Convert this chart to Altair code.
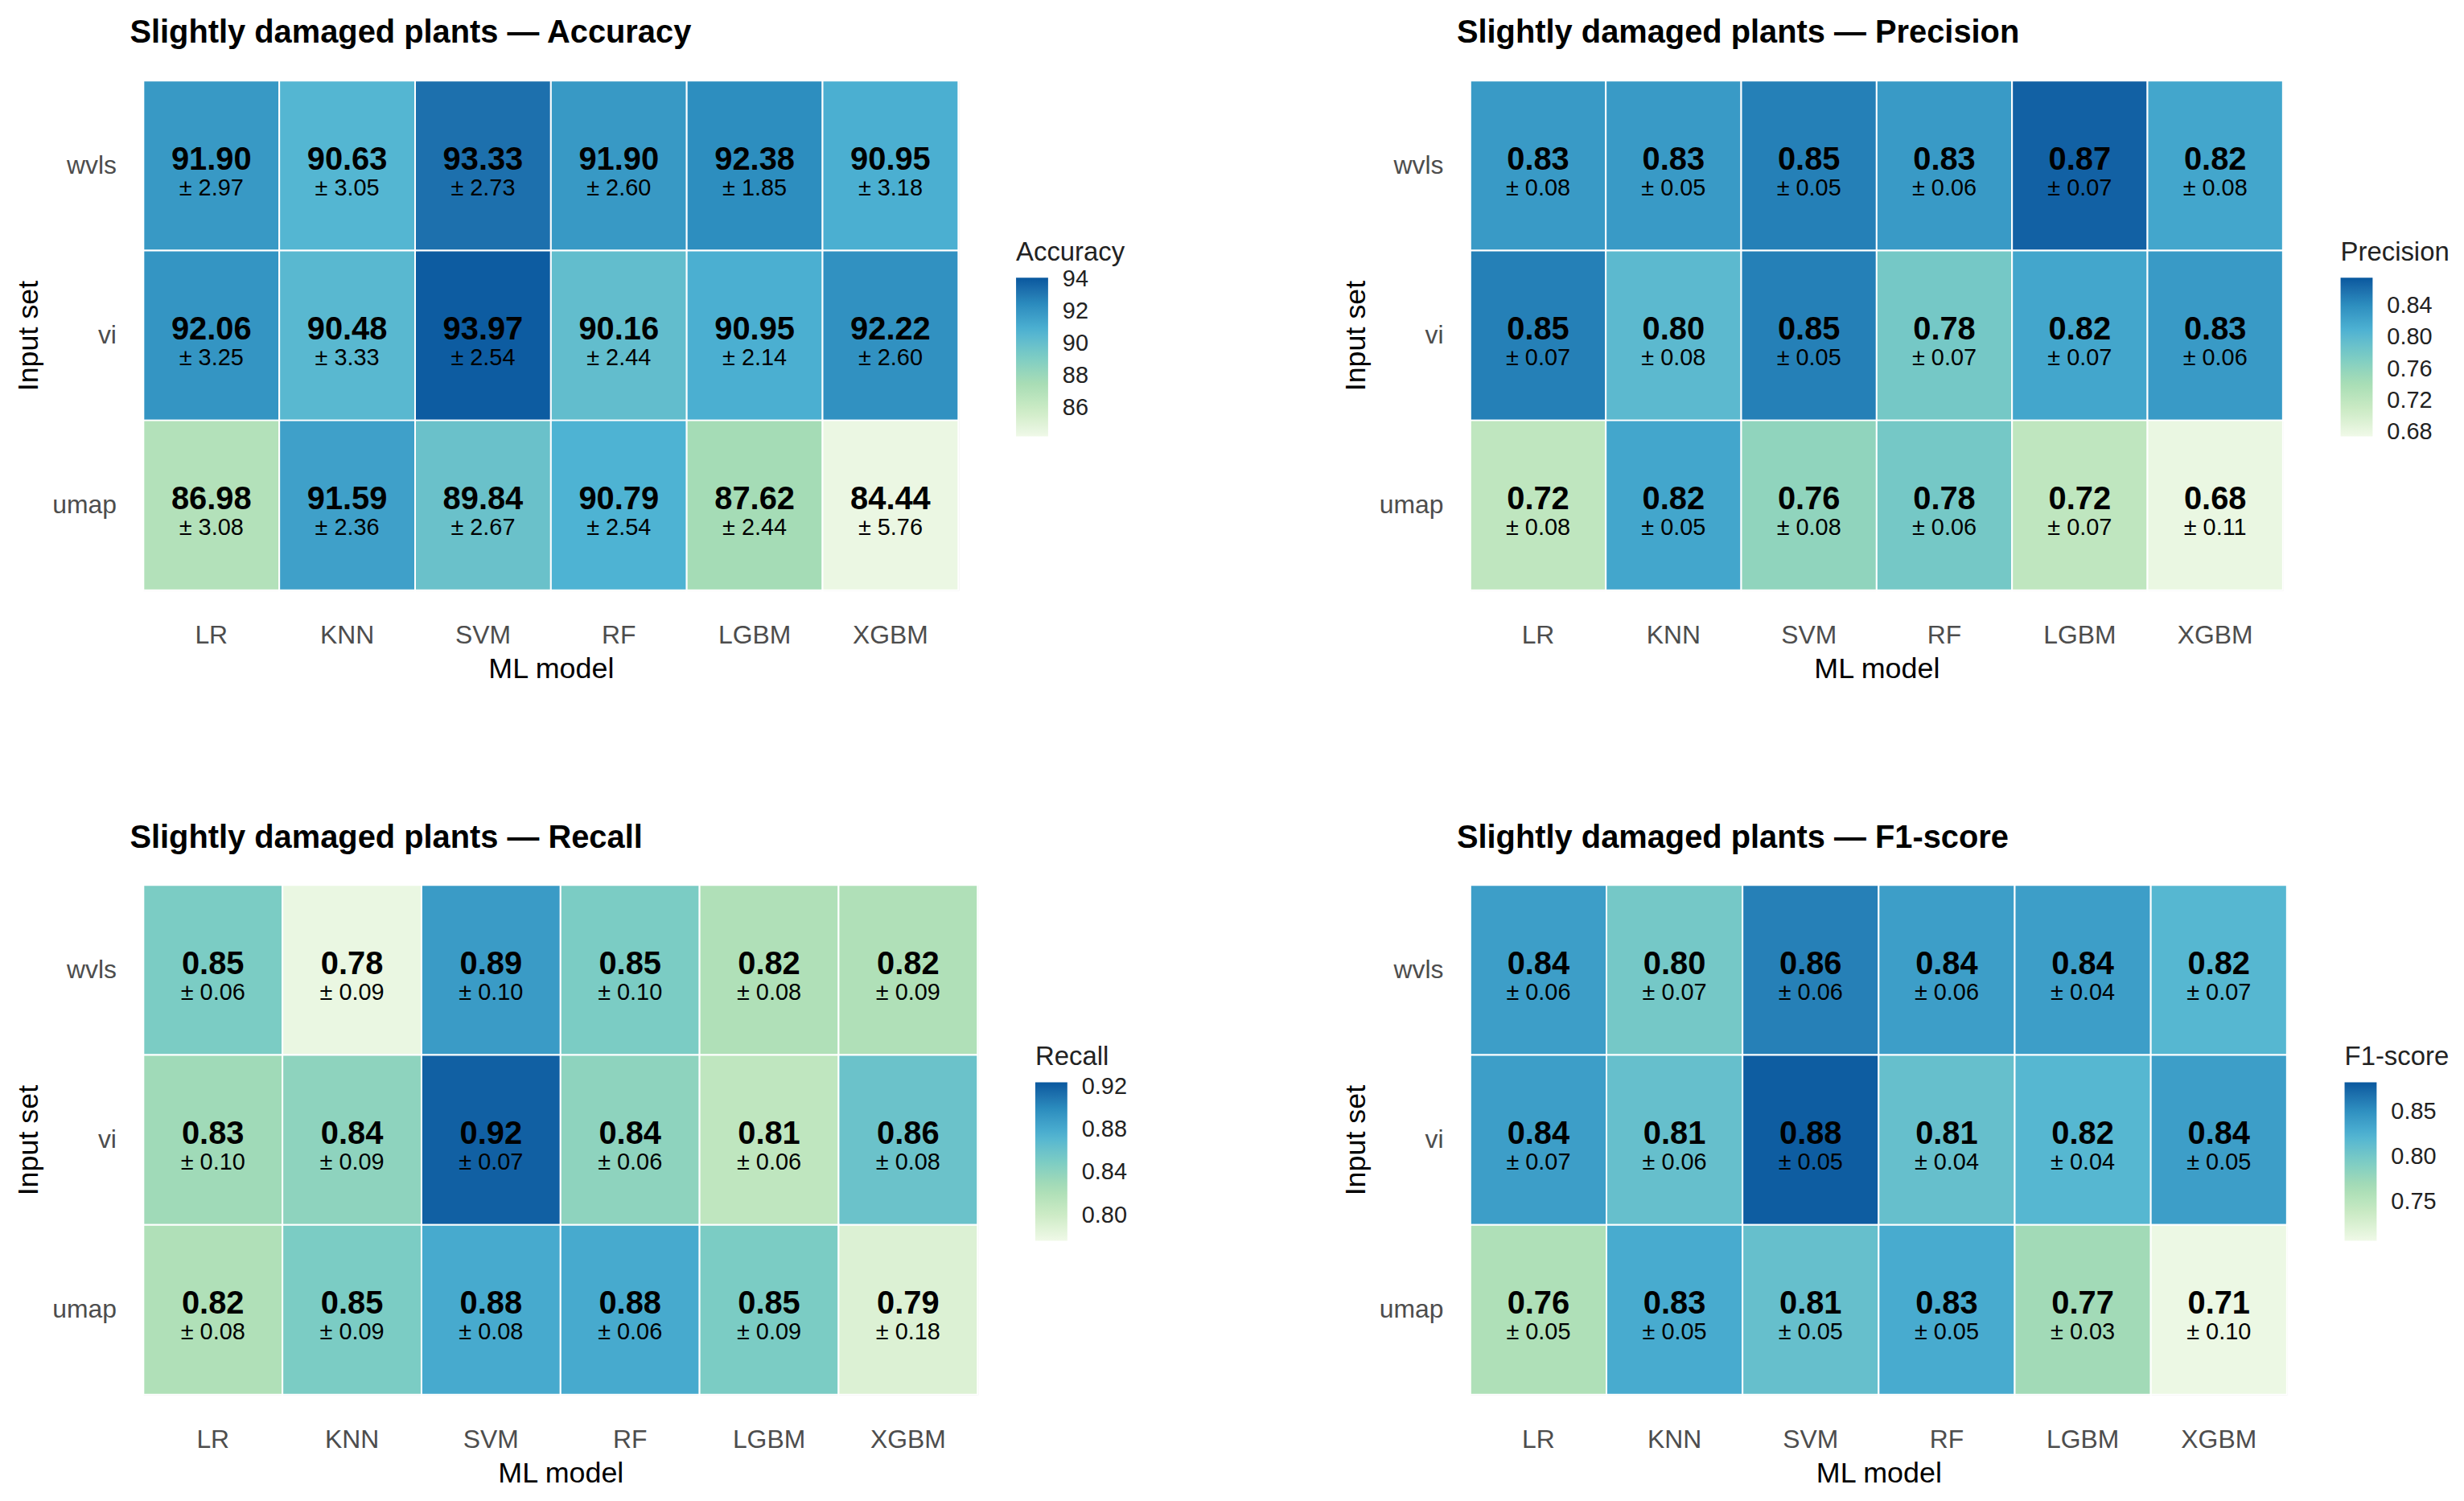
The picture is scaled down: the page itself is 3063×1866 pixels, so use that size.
import altair as alt
import pandas as pd

FONT = "Liberation Sans"

models = ["LR", "KNN", "SVM", "RF", "LGBM", "XGBM"]
input_sets = ["wvls", "vi", "umap"]

# Accuracy (mean, sd) per input set
acc_wvls = [91.90, 90.63, 93.33, 91.90, 92.38, 90.95]
acc_vi = [92.06, 90.48, 93.97, 90.16, 90.95, 92.22]
acc_umap = [86.98, 91.59, 89.84, 90.79, 87.62, 84.44]
acc_sd_wvls = [2.97, 3.05, 2.73, 2.60, 1.85, 3.18]
acc_sd_vi = [3.25, 3.33, 2.54, 2.44, 2.14, 2.60]
acc_sd_umap = [3.08, 2.36, 2.67, 2.54, 2.44, 5.76]

# Precision
pre_wvls = [0.83, 0.83, 0.85, 0.83, 0.87, 0.82]
pre_vi = [0.85, 0.80, 0.85, 0.78, 0.82, 0.83]
pre_umap = [0.72, 0.82, 0.76, 0.78, 0.72, 0.68]
pre_sd_wvls = [0.08, 0.05, 0.05, 0.06, 0.07, 0.08]
pre_sd_vi = [0.07, 0.08, 0.05, 0.07, 0.07, 0.06]
pre_sd_umap = [0.08, 0.05, 0.08, 0.06, 0.07, 0.11]

# Recall
rec_wvls = [0.85, 0.78, 0.89, 0.85, 0.82, 0.82]
rec_vi = [0.83, 0.84, 0.92, 0.84, 0.81, 0.86]
rec_umap = [0.82, 0.85, 0.88, 0.88, 0.85, 0.79]
rec_sd_wvls = [0.06, 0.09, 0.10, 0.10, 0.08, 0.09]
rec_sd_vi = [0.10, 0.09, 0.07, 0.06, 0.06, 0.08]
rec_sd_umap = [0.08, 0.09, 0.08, 0.06, 0.09, 0.18]

# F1-score
f1_wvls = [0.84, 0.80, 0.86, 0.84, 0.84, 0.82]
f1_vi = [0.84, 0.81, 0.88, 0.81, 0.82, 0.84]
f1_umap = [0.76, 0.83, 0.81, 0.83, 0.77, 0.71]
f1_sd_wvls = [0.06, 0.07, 0.06, 0.06, 0.04, 0.07]
f1_sd_vi = [0.07, 0.06, 0.05, 0.04, 0.04, 0.05]
f1_sd_umap = [0.05, 0.05, 0.05, 0.05, 0.03, 0.10]

# colour-bar ticks and limits read from the legends
acc_ticks = [86, 88, 90, 92, 94]
pre_ticks = [0.68, 0.72, 0.76, 0.80, 0.84]
rec_ticks = [0.80, 0.84, 0.88, 0.92]
f1_ticks = [0.75, 0.80, 0.85]
acc_limits = [84.2, 94.1]
pre_limits = [0.674, 0.876]
rec_limits = [0.776, 0.924]
f1_limits = [0.707, 0.883]

GNBU = ["#f0f9e8", "#ccebc5", "#a8ddb5", "#7bccc4", "#4eb3d3", "#2b8cbe", "#08589e"]


def panel(metric, means, sds, ticks, limits, tick_fmt, width, height):
    rows = []
    for s, mv, sv in zip(input_sets, means, sds):
        for m, v, sd in zip(models, mv, sv):
            rows.append({"model": m, "set": s, "value": v,
                         "mean_txt": f"{v:.2f}", "sd_txt": f"\u00b1 {sd:.2f}"})
    df = pd.DataFrame(rows)

    base = alt.Chart(df).encode(
        x=alt.X("model:N", sort=models, title="ML model",
                scale=alt.Scale(paddingInner=0, paddingOuter=0),
                axis=alt.Axis(labelAngle=0, ticks=False, domain=False, grid=False,
                              labelFontSize=32, labelColor="#4d4d4d", labelFont=FONT,
                              labelPadding=41, titleFontSize=36, titleFont=FONT,
                              titleColor="black", titleFontWeight="normal",
                              titlePadding=9)),
        y=alt.Y("set:N", sort=input_sets, title="Input set",
                scale=alt.Scale(paddingInner=0, paddingOuter=0),
                axis=alt.Axis(ticks=False, domain=False, grid=False,
                              labelFontSize=32, labelColor="#4d4d4d", labelFont=FONT,
                              labelPadding=34, titleFontSize=36, titleFont=FONT,
                              titleColor="black", titleFontWeight="normal",
                              titlePadding=10)),
    )
    rect = base.mark_rect(stroke="white", strokeWidth=2).encode(
        color=alt.Color(
            "value:Q", title=metric,
            scale=alt.Scale(domain=limits, range=GNBU, interpolate="lab", nice=False, zero=False),
            legend=alt.Legend(
                orient="none", legendX=width + 72, legendY=199, direction="vertical",
                gradientLength=198, gradientThickness=40, gradientStrokeWidth=0,
                values=ticks, format=tick_fmt, labelFontSize=29, labelFont=FONT,
                labelColor="#222222", labelOffset=18, labelOverlap=False,
                labelBaseline="middle",
                titleFontSize=33, titleFont=FONT,
                titleFontWeight="normal", titleColor="#222222", titlePadding=14,
            ),
        )
    )
    t1 = base.mark_text(fontSize=40, fontWeight="bold", font=FONT, color="black",
                        dy=-7, baseline="middle").encode(text="mean_txt:N")
    t2 = base.mark_text(fontSize=29, font=FONT, color="black",
                        dy=28, baseline="middle").encode(text="sd_txt:N")
    return alt.layer(rect, t1, t2).properties(
        width=width, height=height,
        title=alt.TitleParams(f"Slightly damaged plants \u2014 {metric}", anchor="start",
                              frame="group", dx=-17, offset=38, fontSize=40,
                              fontWeight="bold", font=FONT, color="black"),
    )


tl = panel("Accuracy", [acc_wvls, acc_vi, acc_umap], [acc_sd_wvls, acc_sd_vi, acc_sd_umap],
           acc_ticks, acc_limits, ".0f", 1017, 636)
tr = panel("Precision", [pre_wvls, pre_vi, pre_umap], [pre_sd_wvls, pre_sd_vi, pre_sd_umap],
           pre_ticks, pre_limits, ".2f", 1014, 636)
bl = panel("Recall", [rec_wvls, rec_vi, rec_umap], [rec_sd_wvls, rec_sd_vi, rec_sd_umap],
           rec_ticks, rec_limits, ".2f", 1041, 636)
br = panel("F1-score", [f1_wvls, f1_vi, f1_umap], [f1_sd_wvls, f1_sd_vi, f1_sd_umap],
           f1_ticks, f1_limits, ".2f", 1019, 636)

chart = alt.concat(
    tl, tr, bl, br, columns=2, spacing={"row": 368, "column": 615}, bounds="flush"
).resolve_scale(
    x="independent", y="independent", color="independent"
).properties(
    padding={"left": 9, "top": 9, "right": 9, "bottom": 9}
).configure_view(stroke=None).configure(background="white")

chart.save("out.html", embed_options={"renderer": "svg", "actions": False})
